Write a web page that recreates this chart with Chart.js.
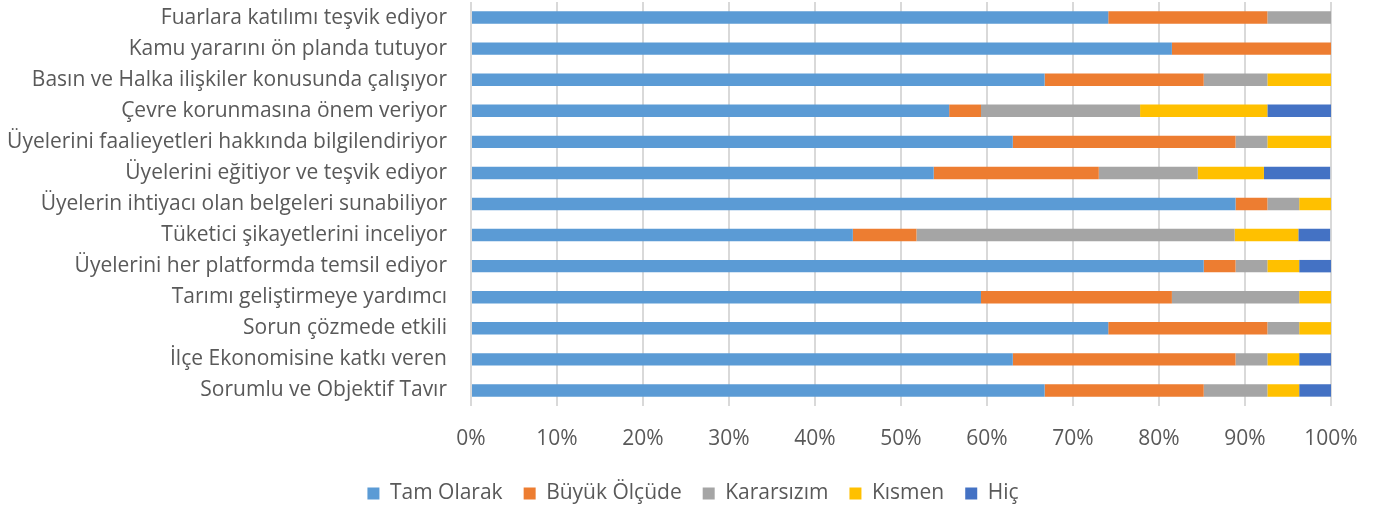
<!DOCTYPE html>
<html>
<head>
<meta charset="utf-8">
<script src="https://cdn.jsdelivr.net/npm/chart.js@4"></script>
<style>
  html, body { margin:0; padding:0; background:#fff; }
  #wrap { width:1386px; height:507px; position:relative; }
</style>
</head>
<body>
<div id="wrap"><canvas id="chart"></canvas></div>
<script>
// categories, top to bottom
const categories = [
  'Fuarlara katılımı teşvik ediyor',
  'Kamu yararını ön planda tutuyor',
  'Basın ve Halka ilişkiler konusunda çalışıyor',
  'Çevre korunmasına önem veriyor',
  'Üyelerini faalieyetleri hakkında bilgilendiriyor',
  'Üyelerini eğitiyor ve teşvik ediyor',
  'Üyelerin ihtiyacı olan belgeleri sunabiliyor',
  'Tüketici şikayetlerini inceliyor',
  'Üyelerini her platformda temsil ediyor',
  'Tarımı geliştirmeye yardımcı',
  'Sorun çözmede etkili',
  'İlçe Ekonomisine katkı veren',
  'Sorumlu ve Objektif Tavır'
];

const seriesNames = ['Tam Olarak', 'Büyük Ölçüde', 'Kararsızım', 'Kısmen', 'Hiç'];

// percent shares per category
const tamOlarak   = [74.1, 81.5, 66.7, 55.6, 63.0, 53.8, 88.9, 44.4, 85.2, 59.3, 74.1, 63.0, 66.7];
const buyukOlcude = [18.5, 18.5, 18.5,  3.7, 25.9, 19.2,  3.7,  7.4,  3.7, 22.2, 18.5, 25.9, 18.5];
const kararsizim  = [ 7.4,  0,    7.4, 18.5,  3.7, 11.5,  3.7, 37.0,  3.7, 14.8,  3.7,  3.7,  7.4];
const kismen      = [ 0,    0,    7.4, 14.8,  7.4,  7.7,  3.7,  7.4,  3.7,  3.7,  3.7,  3.7,  3.7];
const hic         = [ 0,    0,    0,    7.4,  0,    7.7,  0,    3.7,  3.7,  0,    0,    3.7,  3.7];

const xTicks = [0, 10, 20, 30, 40, 50, 60, 70, 80, 90, 100];

const colors = ['#5B9BD5', '#ED7D31', '#A5A5A5', '#FFC000', '#4472C4'];
const FONT = '"Open Sans", Lato, sans-serif';
const TEXT = '#595959';

const seriesData = [tamOlarak, buyukOlcude, kararsizim, kismen, hic];

// keep the legend box short, its label padding is only wanted sideways
const legendHeight = {
  id: 'legendHeight',
  afterInit(chart) {
    const lg = chart.legend;
    if (!lg) return;
    const fit = lg.fit.bind(lg);
    lg.fit = function(){ fit(); this.height = 45; };
  }
};

const ctx = document.getElementById('chart').getContext('2d');
new Chart(ctx, {
  type: 'bar',
  data: {
    labels: categories,
    datasets: seriesData.map((d, i) => ({
      label: seriesNames[i],
      data: d,
      backgroundColor: colors[i],
      borderWidth: 0,
      barPercentage: 0.8,
      categoryPercentage: 0.5
    }))
  },
  options: {
    indexAxis: 'y',
    responsive: true,
    maintainAspectRatio: false,
    animation: false,
    layout: { padding: { top: 2, right: 0, bottom: 0, left: 0 } },
    scales: {
      x: {
        stacked: true,
        min: 0,
        max: 100,
        afterBuildTicks: (s) => { s.ticks = xTicks.map(v => ({ value: v })); },
        afterFit: (s) => { s.height = 56; s.paddingRight = 55; },
        grid: { color: '#D9D9D9', lineWidth: 2, drawTicks: false },
        border: { display: false },
        ticks: {
          padding: 20,
          color: TEXT,
          font: { family: FONT, size: 21 },
          callback: (v) => v + '%'
        }
      },
      y: {
        stacked: true,
        afterFit: (s) => { s.width = 471; s.paddingTop = 0; s.paddingBottom = 0; },
        grid: { display: false, drawTicks: false },
        border: { display: false },
        ticks: {
          padding: 24,
          color: TEXT,
          font: { family: FONT, size: 21 },
          autoSkip: false
        }
      }
    },
    plugins: {
      tooltip: { enabled: false },
      legend: {
        position: 'bottom',
        labels: {
          boxWidth: 12,
          boxHeight: 12,
          padding: 21,
          color: TEXT,
          font: { family: FONT, size: 21 }
        }
      }
    }
  },
  plugins: [legendHeight]
});
</script>
</body>
</html>
